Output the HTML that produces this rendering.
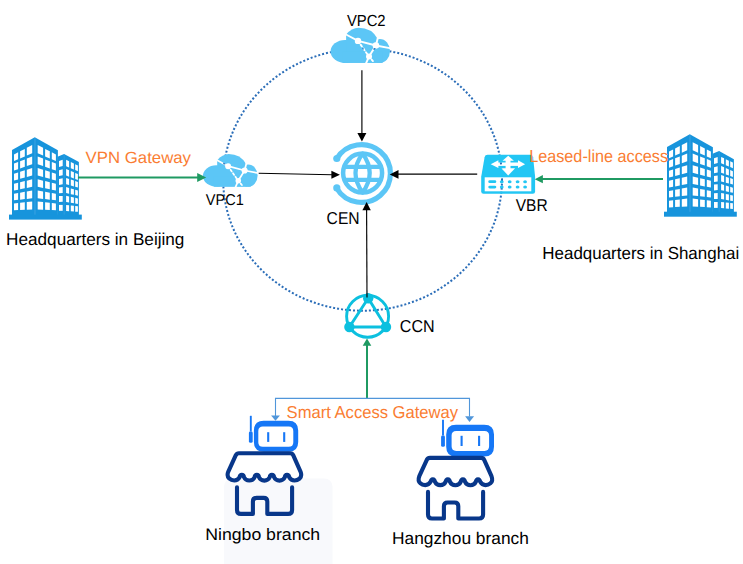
<!DOCTYPE html>
<html><head><meta charset="utf-8"><style>
html,body{margin:0;padding:0;background:#fff;}
svg{display:block;}
</style></head><body>
<svg width="743" height="564" viewBox="0 0 743 564">
<rect width="743" height="564" fill="#fff"/>
<defs><mask id="cloudmask" maskUnits="userSpaceOnUse" x="-5" y="-5" width="70" height="45">
<rect x="-5" y="-5" width="70" height="45" fill="#fff"/>
<g stroke="#000" stroke-width="1.9" fill="none" stroke-linecap="round">
<polyline points="14.5,6.2 27.4,13.1 45.3,17.7 60.5,20.6"/>
<polyline points="47.6,8.5 45.3,17.7 38.4,28.7 35.2,36"/>
<line x1="27.4" y1="13.1" x2="38.4" y2="28.7" stroke-dasharray="2.2 2.4"/>
<line x1="38.4" y1="28.7" x2="43" y2="34" stroke-dasharray="2 2"/>
</g>
<g fill="#000"><circle cx="27.4" cy="13.1" r="3.2"/><circle cx="45.3" cy="17.7" r="3.3"/><circle cx="38.4" cy="28.7" r="3"/></g>
</mask>
<mask id="vbrmask" maskUnits="userSpaceOnUse" x="475" y="150" width="65" height="50">
<rect x="475" y="150" width="65" height="50" fill="#fff"/>
<g fill="#000">
<rect x="484.7" y="177.3" width="46.6" height="14"/>
<rect x="497" y="162.5" width="22" height="3.4"/>
<rect x="505.6" y="159.5" width="4.9" height="10"/>
<polygon points="490.7,164.2 498.4,160.3 498.4,168.1"/>
<polygon points="525.1,164.2 518,160.3 518,168.1"/>
<polygon points="508.2,155.8 502.5,160.7 513.9,160.7"/>
<polygon points="508.2,175.4 501.3,168.3 515.1,168.3"/>
</g>
</mask>
</defs>
<rect x="224" y="478.5" width="108.5" height="100" rx="8" fill="#f8f9fc"/>
<ellipse cx="362.6" cy="179.7" rx="139.4" ry="131.0" fill="none" stroke="#2a6db8" stroke-width="2" stroke-dasharray="2 2"/>
<g><polygon points="12,150 34.8,137.2 57.9,150.2 57.9,215 12,215" fill="#1794dc"/>
<polygon points="57.5,156.7 64.1,154 78.9,162.1 78.9,215 57.5,215" fill="#1794dc"/>
<rect x="9" y="214.6" width="72.8" height="5.0" fill="#1794dc"/>
<rect x="34.2" y="138.2" width="1.5" height="76.4" fill="#3aa3e3" opacity="0.7"/>
<rect x="63.6" y="155" width="1.2" height="59.6" fill="#3aa3e3" opacity="0.5"/>
<polygon points="14,154.5 18.1,152.37 18.1,159.34 14,161.1" fill="#ffffff"/>
<polygon points="51.8,152.37 55.9,154.5 55.9,161.1 51.8,159.34" fill="#ffffff"/>
<polygon points="20.1,151.33 24.8,148.88 24.8,156.46 20.1,158.48" fill="#ffffff"/>
<polygon points="45.1,148.88 49.8,151.33 49.8,158.48 45.1,156.46" fill="#ffffff"/>
<polygon points="26.8,147.84 32.2,145.04 32.2,153.27 26.8,155.6" fill="#ffffff"/>
<polygon points="37.7,145.04 43.1,147.84 43.1,155.6 37.7,153.27" fill="#ffffff"/>
<polygon points="14,163.6 18.1,162 18.1,169.16 14,170.6" fill="#ffffff"/>
<polygon points="51.8,162 55.9,163.6 55.9,170.6 51.8,169.16" fill="#ffffff"/>
<polygon points="20.1,161.22 24.8,159.39 24.8,166.82 20.1,168.47" fill="#ffffff"/>
<polygon points="45.1,159.39 49.8,161.22 49.8,168.47 45.1,166.82" fill="#ffffff"/>
<polygon points="26.8,158.61 32.2,156.5 32.2,164.23 26.8,166.12" fill="#ffffff"/>
<polygon points="37.7,156.5 43.1,158.61 43.1,166.12 37.7,164.23" fill="#ffffff"/>
<polygon points="14,173.7 18.1,172.43 18.1,179.39 14,180.5" fill="#ffffff"/>
<polygon points="51.8,172.43 55.9,173.7 55.9,180.5 51.8,179.39" fill="#ffffff"/>
<polygon points="20.1,171.81 24.8,170.35 24.8,177.58 20.1,178.85" fill="#ffffff"/>
<polygon points="45.1,170.35 49.8,171.81 49.8,178.85 45.1,177.58" fill="#ffffff"/>
<polygon points="26.8,169.73 32.2,168.06 32.2,175.59 26.8,177.04" fill="#ffffff"/>
<polygon points="37.7,168.06 43.1,169.73 43.1,177.04 37.7,175.59" fill="#ffffff"/>
<polygon points="14,183.7 18.1,182.72 18.1,189.68 14,190.5" fill="#ffffff"/>
<polygon points="51.8,182.72 55.9,183.7 55.9,190.5 51.8,189.68" fill="#ffffff"/>
<polygon points="20.1,182.24 24.8,181.11 24.8,188.34 20.1,189.28" fill="#ffffff"/>
<polygon points="45.1,181.11 49.8,182.24 49.8,189.28 45.1,188.34" fill="#ffffff"/>
<polygon points="26.8,180.63 32.2,179.33 32.2,186.86 26.8,187.94" fill="#ffffff"/>
<polygon points="37.7,179.33 43.1,180.63 43.1,187.94 37.7,186.86" fill="#ffffff"/>
<polygon points="14,193.8 18.1,193.06 18.1,199.85 14,200.3" fill="#ffffff"/>
<polygon points="51.8,193.06 55.9,193.8 55.9,200.3 51.8,199.85" fill="#ffffff"/>
<polygon points="20.1,192.7 24.8,191.86 24.8,199.11 20.1,199.63" fill="#ffffff"/>
<polygon points="45.1,191.86 49.8,192.7 49.8,199.63 45.1,199.11" fill="#ffffff"/>
<polygon points="26.8,191.5 32.2,190.52 32.2,198.3 26.8,198.89" fill="#ffffff"/>
<polygon points="37.7,190.52 43.1,191.5 43.1,198.89 37.7,198.3" fill="#ffffff"/>
<polygon points="14,203.6 18.1,203.11 18.1,210.09 14,210.3" fill="#ffffff"/>
<polygon points="51.8,203.11 55.9,203.6 55.9,210.3 51.8,210.09" fill="#ffffff"/>
<polygon points="20.1,202.87 24.8,202.3 24.8,209.76 20.1,209.99" fill="#ffffff"/>
<polygon points="45.1,202.3 49.8,202.87 49.8,209.99 45.1,209.76" fill="#ffffff"/>
<polygon points="26.8,202.06 32.2,201.42 32.2,209.39 26.8,209.66" fill="#ffffff"/>
<polygon points="37.7,201.42 43.1,202.06 43.1,209.66 37.7,209.39" fill="#ffffff"/>
<polygon points="59,161.1 62.7,159.81 62.7,165.96 59,167" fill="#ffffff"/>
<polygon points="59,170.2 62.7,169.2 62.7,175.3 59,176.1" fill="#ffffff"/>
<polygon points="59,179 62.7,178.3 62.7,184.34 59,184.9" fill="#ffffff"/>
<polygon points="59,187.4 62.7,187.03 62.7,193 59,193.3" fill="#ffffff"/>
<polygon points="59,196.1 62.7,195.91 62.7,201.85 59,202" fill="#ffffff"/>
<polygon points="59,204.9 62.7,204.9 62.7,210.8 59,210.8" fill="#ffffff"/>
<polygon points="66.1,159.8 69.1,161.24 69.1,167.46 66.1,166.2" fill="#ffffff"/>
<polygon points="70.8,162.06 73.9,163.54 73.9,169.48 70.8,168.17" fill="#ffffff"/>
<polygon points="75.2,164.17 77.9,165.46 77.9,171.16 75.2,170.02" fill="#ffffff"/>
<polygon points="66.1,168.9 69.1,170.22 69.1,176.71 66.1,175.6" fill="#ffffff"/>
<polygon points="70.8,170.97 73.9,172.33 73.9,178.49 70.8,177.34" fill="#ffffff"/>
<polygon points="75.2,172.9 77.9,174.09 77.9,179.97 75.2,178.97" fill="#ffffff"/>
<polygon points="66.1,178 69.1,178.99 69.1,185.11 66.1,184.3" fill="#ffffff"/>
<polygon points="70.8,179.55 73.9,180.57 73.9,186.41 70.8,185.57" fill="#ffffff"/>
<polygon points="75.2,181 77.9,181.89 77.9,187.49 75.2,186.76" fill="#ffffff"/>
<polygon points="66.1,187 69.1,187.9 69.1,193.76 66.1,193.1" fill="#ffffff"/>
<polygon points="70.8,188.41 73.9,189.34 73.9,194.82 70.8,194.13" fill="#ffffff"/>
<polygon points="75.2,189.73 77.9,190.54 77.9,195.7 75.2,195.1" fill="#ffffff"/>
<polygon points="66.1,195.8 69.1,196.46 69.1,202.44 66.1,201.9" fill="#ffffff"/>
<polygon points="70.8,196.83 73.9,197.52 73.9,203.3 70.8,202.75" fill="#ffffff"/>
<polygon points="75.2,197.8 77.9,198.4 77.9,204.02 75.2,203.54" fill="#ffffff"/>
<polygon points="66.1,204.9 69.1,205.23 69.1,211.21 66.1,211" fill="#ffffff"/>
<polygon points="70.8,205.42 73.9,205.76 73.9,211.55 70.8,211.33" fill="#ffffff"/>
<polygon points="75.2,205.9 77.9,206.2 77.9,211.83 75.2,211.64" fill="#ffffff"/></g>
<g transform="translate(655,-2.9)"><polygon points="12,150 34.8,137.2 57.9,150.2 57.9,215 12,215" fill="#1794dc"/>
<polygon points="57.5,156.7 64.1,154 78.9,162.1 78.9,215 57.5,215" fill="#1794dc"/>
<rect x="9" y="214.6" width="72.8" height="5.0" fill="#1794dc"/>
<rect x="34.2" y="138.2" width="1.5" height="76.4" fill="#3aa3e3" opacity="0.7"/>
<rect x="63.6" y="155" width="1.2" height="59.6" fill="#3aa3e3" opacity="0.5"/>
<polygon points="14,154.5 18.1,152.37 18.1,159.34 14,161.1" fill="#ffffff"/>
<polygon points="51.8,152.37 55.9,154.5 55.9,161.1 51.8,159.34" fill="#ffffff"/>
<polygon points="20.1,151.33 24.8,148.88 24.8,156.46 20.1,158.48" fill="#ffffff"/>
<polygon points="45.1,148.88 49.8,151.33 49.8,158.48 45.1,156.46" fill="#ffffff"/>
<polygon points="26.8,147.84 32.2,145.04 32.2,153.27 26.8,155.6" fill="#ffffff"/>
<polygon points="37.7,145.04 43.1,147.84 43.1,155.6 37.7,153.27" fill="#ffffff"/>
<polygon points="14,163.6 18.1,162 18.1,169.16 14,170.6" fill="#ffffff"/>
<polygon points="51.8,162 55.9,163.6 55.9,170.6 51.8,169.16" fill="#ffffff"/>
<polygon points="20.1,161.22 24.8,159.39 24.8,166.82 20.1,168.47" fill="#ffffff"/>
<polygon points="45.1,159.39 49.8,161.22 49.8,168.47 45.1,166.82" fill="#ffffff"/>
<polygon points="26.8,158.61 32.2,156.5 32.2,164.23 26.8,166.12" fill="#ffffff"/>
<polygon points="37.7,156.5 43.1,158.61 43.1,166.12 37.7,164.23" fill="#ffffff"/>
<polygon points="14,173.7 18.1,172.43 18.1,179.39 14,180.5" fill="#ffffff"/>
<polygon points="51.8,172.43 55.9,173.7 55.9,180.5 51.8,179.39" fill="#ffffff"/>
<polygon points="20.1,171.81 24.8,170.35 24.8,177.58 20.1,178.85" fill="#ffffff"/>
<polygon points="45.1,170.35 49.8,171.81 49.8,178.85 45.1,177.58" fill="#ffffff"/>
<polygon points="26.8,169.73 32.2,168.06 32.2,175.59 26.8,177.04" fill="#ffffff"/>
<polygon points="37.7,168.06 43.1,169.73 43.1,177.04 37.7,175.59" fill="#ffffff"/>
<polygon points="14,183.7 18.1,182.72 18.1,189.68 14,190.5" fill="#ffffff"/>
<polygon points="51.8,182.72 55.9,183.7 55.9,190.5 51.8,189.68" fill="#ffffff"/>
<polygon points="20.1,182.24 24.8,181.11 24.8,188.34 20.1,189.28" fill="#ffffff"/>
<polygon points="45.1,181.11 49.8,182.24 49.8,189.28 45.1,188.34" fill="#ffffff"/>
<polygon points="26.8,180.63 32.2,179.33 32.2,186.86 26.8,187.94" fill="#ffffff"/>
<polygon points="37.7,179.33 43.1,180.63 43.1,187.94 37.7,186.86" fill="#ffffff"/>
<polygon points="14,193.8 18.1,193.06 18.1,199.85 14,200.3" fill="#ffffff"/>
<polygon points="51.8,193.06 55.9,193.8 55.9,200.3 51.8,199.85" fill="#ffffff"/>
<polygon points="20.1,192.7 24.8,191.86 24.8,199.11 20.1,199.63" fill="#ffffff"/>
<polygon points="45.1,191.86 49.8,192.7 49.8,199.63 45.1,199.11" fill="#ffffff"/>
<polygon points="26.8,191.5 32.2,190.52 32.2,198.3 26.8,198.89" fill="#ffffff"/>
<polygon points="37.7,190.52 43.1,191.5 43.1,198.89 37.7,198.3" fill="#ffffff"/>
<polygon points="14,203.6 18.1,203.11 18.1,210.09 14,210.3" fill="#ffffff"/>
<polygon points="51.8,203.11 55.9,203.6 55.9,210.3 51.8,210.09" fill="#ffffff"/>
<polygon points="20.1,202.87 24.8,202.3 24.8,209.76 20.1,209.99" fill="#ffffff"/>
<polygon points="45.1,202.3 49.8,202.87 49.8,209.99 45.1,209.76" fill="#ffffff"/>
<polygon points="26.8,202.06 32.2,201.42 32.2,209.39 26.8,209.66" fill="#ffffff"/>
<polygon points="37.7,201.42 43.1,202.06 43.1,209.66 37.7,209.39" fill="#ffffff"/>
<polygon points="59,161.1 62.7,159.81 62.7,165.96 59,167" fill="#ffffff"/>
<polygon points="59,170.2 62.7,169.2 62.7,175.3 59,176.1" fill="#ffffff"/>
<polygon points="59,179 62.7,178.3 62.7,184.34 59,184.9" fill="#ffffff"/>
<polygon points="59,187.4 62.7,187.03 62.7,193 59,193.3" fill="#ffffff"/>
<polygon points="59,196.1 62.7,195.91 62.7,201.85 59,202" fill="#ffffff"/>
<polygon points="59,204.9 62.7,204.9 62.7,210.8 59,210.8" fill="#ffffff"/>
<polygon points="66.1,159.8 69.1,161.24 69.1,167.46 66.1,166.2" fill="#ffffff"/>
<polygon points="70.8,162.06 73.9,163.54 73.9,169.48 70.8,168.17" fill="#ffffff"/>
<polygon points="75.2,164.17 77.9,165.46 77.9,171.16 75.2,170.02" fill="#ffffff"/>
<polygon points="66.1,168.9 69.1,170.22 69.1,176.71 66.1,175.6" fill="#ffffff"/>
<polygon points="70.8,170.97 73.9,172.33 73.9,178.49 70.8,177.34" fill="#ffffff"/>
<polygon points="75.2,172.9 77.9,174.09 77.9,179.97 75.2,178.97" fill="#ffffff"/>
<polygon points="66.1,178 69.1,178.99 69.1,185.11 66.1,184.3" fill="#ffffff"/>
<polygon points="70.8,179.55 73.9,180.57 73.9,186.41 70.8,185.57" fill="#ffffff"/>
<polygon points="75.2,181 77.9,181.89 77.9,187.49 75.2,186.76" fill="#ffffff"/>
<polygon points="66.1,187 69.1,187.9 69.1,193.76 66.1,193.1" fill="#ffffff"/>
<polygon points="70.8,188.41 73.9,189.34 73.9,194.82 70.8,194.13" fill="#ffffff"/>
<polygon points="75.2,189.73 77.9,190.54 77.9,195.7 75.2,195.1" fill="#ffffff"/>
<polygon points="66.1,195.8 69.1,196.46 69.1,202.44 66.1,201.9" fill="#ffffff"/>
<polygon points="70.8,196.83 73.9,197.52 73.9,203.3 70.8,202.75" fill="#ffffff"/>
<polygon points="75.2,197.8 77.9,198.4 77.9,204.02 75.2,203.54" fill="#ffffff"/>
<polygon points="66.1,204.9 69.1,205.23 69.1,211.21 66.1,211" fill="#ffffff"/>
<polygon points="70.8,205.42 73.9,205.76 73.9,211.55 70.8,211.33" fill="#ffffff"/>
<polygon points="75.2,205.9 77.9,206.2 77.9,211.83 75.2,211.64" fill="#ffffff"/></g>
<g transform="translate(330.6,27.8)"><g fill="#5cc6f6" mask="url(#cloudmask)">
<ellipse cx="14.5" cy="23.6" rx="14.5" ry="11.5"/>
<path d="M15.5 35 L15.5 6.7 Q21 0.2 28 0 Q41 0 47 11 L48 35 Z"/>
<ellipse cx="49.2" cy="23.2" rx="10.2" ry="11.9"/>
<rect x="12" y="24" width="40" height="11.1"/>
</g></g>
<g transform="translate(202.9,154) scale(0.921,0.932)"><g fill="#5cc6f6" mask="url(#cloudmask)">
<ellipse cx="14.5" cy="23.6" rx="14.5" ry="11.5"/>
<path d="M15.5 35 L15.5 6.7 Q21 0.2 28 0 Q41 0 47 11 L48 35 Z"/>
<ellipse cx="49.2" cy="23.2" rx="10.2" ry="11.9"/>
<rect x="12" y="24" width="40" height="11.1"/>
</g></g>
<g fill="none" stroke="#5cc6f6">
<path d="M336.8 158.5 A28.9 28.9 0 1 1 336.8 188.5" stroke-width="5.2" stroke-linecap="round"/>
<circle cx="362.6" cy="173.1" r="19.5" stroke-width="4.5"/>
<line x1="343" y1="166.9" x2="382" y2="166.9" stroke-width="4.3"/>
<line x1="343" y1="179.8" x2="382" y2="179.8" stroke-width="4.3"/>
<path d="M362.6 153.6 Q348.4 173.1 362.6 192.6 Q376.8 173.1 362.6 153.6 Z" stroke-width="4.2" stroke-linejoin="round"/>
</g>
<circle cx="336.8" cy="158.5" r="3.6" fill="#5cc6f6"/><circle cx="336.8" cy="187.9" r="3.6" fill="#5cc6f6"/>
<g mask="url(#vbrmask)"><path d="M487.5 154.8 L530.2 154.8 Q532.6 154.8 533.1 157.2 L535.1 176.7 L535.1 191.5 Q535.1 193.75 532.8 193.75 L483.5 193.75 Q481.2 193.75 481.2 191.5 L481.2 176.7 L484.6 157.2 Q485.1 154.8 487.5 154.8 Z" fill="#22c6f4"/></g>
<g fill="#22c6f4">
<rect x="488.3" y="180.3" width="8" height="2.8" rx="1.4"/>
<ellipse cx="501.75" cy="181.7" rx="1.9" ry="1.5"/>
<ellipse cx="509.7" cy="181.7" rx="1.9" ry="1.5"/>
<ellipse cx="517.6" cy="181.7" rx="1.9" ry="1.5"/>
<ellipse cx="525.1" cy="181.7" rx="1.9" ry="1.5"/>
<rect x="488.3" y="185.7" width="8" height="2.8" rx="1.4"/>
<ellipse cx="501.75" cy="187.1" rx="1.9" ry="1.5"/>
<ellipse cx="509.7" cy="187.1" rx="1.9" ry="1.5"/>
<ellipse cx="517.6" cy="187.1" rx="1.9" ry="1.5"/>
<ellipse cx="525.1" cy="187.1" rx="1.9" ry="1.5"/>
</g>
<g stroke="#0cc0df" fill="none" stroke-width="2.9">
<circle cx="367.6" cy="316.3" r="21"/>
<polygon points="368.2,298.3 349.4,327 386,327"/>
</g>
<g fill="#0cc0df"><circle cx="368.2" cy="298.3" r="5.2"/><circle cx="349.4" cy="327" r="5.2"/><circle cx="386" cy="327" r="5.2"/></g>
<path d="M263.7 420.8 L288.4 420.8 Q298.2 420.8 298.2 430.6 L298.2 441.9 Q298.2 451.7 288.4 451.7 L263.7 451.7 Q253.9 451.7 253.9 441.9 L253.9 430.6 Q253.9 420.8 263.7 420.8 Z M262.9 426.6 L288.7 426.6 Q293.3 426.6 293.3 431.2 L293.3 442.2 Q293.3 446.8 288.7 446.8 L262.9 446.8 Q258.3 446.8 258.3 442.2 L258.3 431.2 Q258.3 426.6 262.9 426.6 Z" fill="#1677f6" fill-rule="evenodd"/>
<g stroke="#1677f6" stroke-width="2.1"><line x1="268.2" y1="432.2" x2="268.2" y2="441.9"/><line x1="284.2" y1="432.2" x2="284.2" y2="441.9"/></g>
<line x1="250.8" y1="415.8" x2="250.8" y2="431.3" stroke="#1677f6" stroke-width="1.9"/>
<rect x="248.9" y="431.3" width="3.8" height="11.5" rx="1.6" fill="#1677f6"/>
<path d="M456 424.8 L484.2 424.8 Q494 424.8 494 434.6 L494 446.8 Q494 456.6 484.2 456.6 L456 456.6 Q446.2 456.6 446.2 446.8 L446.2 434.6 Q446.2 424.8 456 424.8 Z M456.2 431 L484.5 431 Q489.1 431 489.1 435.6 L489.1 446.3 Q489.1 450.9 484.5 450.9 L456.2 450.9 Q451.6 450.9 451.6 446.3 L451.6 435.6 Q451.6 431 456.2 431 Z" fill="#1677f6" fill-rule="evenodd"/>
<g stroke="#1677f6" stroke-width="2.1"><line x1="461.6" y1="435.8" x2="461.6" y2="446"/><line x1="479.1" y1="435.8" x2="479.1" y2="446"/></g>
<line x1="443" y1="419.7" x2="443" y2="435.3" stroke="#1677f6" stroke-width="1.9"/>
<rect x="441.1" y="435.3" width="3.8" height="11.5" rx="1.6" fill="#1677f6"/>
<g fill="none" stroke="#08378a" stroke-width="4.1" stroke-linecap="round" stroke-linejoin="round">
<path d="M238.9 453.3 L290.2 453.3 Q292.3 453.3 293.2 455.2 L300.5 471.6 Q302.3 476.3 299.5 478.6 Q297.3 480.5 294.5 480.5 Q291 480.5 289.05 477 A2.06 2.06 0 1 0 284.95 477 A6 6 0 0 1 273.95 477 A2.06 2.06 0 1 0 269.85 477 A6 6 0 0 1 258.85 477 A2.06 2.06 0 1 0 254.75 477 A6 6 0 0 1 243.85 477 A2.06 2.06 0 1 0 239.75 477 Q237.8 480.5 234.2 480.5 Q231.3 480.5 229.3 478.6 Q226.5 476.3 228.3 471.6 L235.8 455.2 Q236.8 453.3 238.9 453.3 Z"/>
<path d="M237 487.3 L237 509.9 Q237 513.9 241 513.9 L252.9 513.9 L252.9 501.6 Q252.9 497.9 256.6 497.9 L263.6 497.9 Q267.3 497.9 267.3 501.6 L267.3 513.9 L288.1 513.9 Q292.1 513.9 292.1 509.9 L292.1 487.3"/>
</g>
<g transform="translate(191,4.6)"><g fill="none" stroke="#08378a" stroke-width="4.1" stroke-linecap="round" stroke-linejoin="round">
<path d="M238.9 453.3 L290.2 453.3 Q292.3 453.3 293.2 455.2 L300.5 471.6 Q302.3 476.3 299.5 478.6 Q297.3 480.5 294.5 480.5 Q291 480.5 289.05 477 A2.06 2.06 0 1 0 284.95 477 A6 6 0 0 1 273.95 477 A2.06 2.06 0 1 0 269.85 477 A6 6 0 0 1 258.85 477 A2.06 2.06 0 1 0 254.75 477 A6 6 0 0 1 243.85 477 A2.06 2.06 0 1 0 239.75 477 Q237.8 480.5 234.2 480.5 Q231.3 480.5 229.3 478.6 Q226.5 476.3 228.3 471.6 L235.8 455.2 Q236.8 453.3 238.9 453.3 Z"/>
<path d="M237 487.3 L237 509.9 Q237 513.9 241 513.9 L252.9 513.9 L252.9 501.6 Q252.9 497.9 256.6 497.9 L263.6 497.9 Q267.3 497.9 267.3 501.6 L267.3 513.9 L288.1 513.9 Q292.1 513.9 292.1 509.9 L292.1 487.3"/>
</g></g>
<line x1="78" y1="177.4" x2="198" y2="177.4" stroke="#1f9a62" stroke-width="2.0"/>
<polygon points="206.2,177.5 197.2,173.1 197.2,181.9" fill="#1f9a62"/>
<line x1="663" y1="178.9" x2="542" y2="178.9" stroke="#1f9a62" stroke-width="2.0"/>
<polygon points="534.7,179.2 542.9,175.1 542.9,183.3" fill="#1f9a62"/>
<line x1="367" y1="398.8" x2="367" y2="345" stroke="#1f9a62" stroke-width="2.0"/>
<polygon points="367,338.5 362.7,345.8 371.3,345.8" fill="#1f9a62"/>
<line x1="258.7" y1="173.3" x2="332" y2="174.7" stroke="#000" stroke-width="1.15"/>
<polygon points="339.9,174.8 331.4,170.8 331.4,178.8" fill="#000"/>
<line x1="361.9" y1="70.2" x2="361.9" y2="134" stroke="#000" stroke-width="1.15"/>
<polygon points="361.9,141.4 357.4,133.1 366.4,133.1" fill="#000"/>
<line x1="477.2" y1="174.1" x2="398" y2="174.1" stroke="#000" stroke-width="1.15"/>
<polygon points="389.7,174.4 398.5,170.1 398.5,178.7" fill="#000"/>
<line x1="367" y1="297.4" x2="366.6" y2="210" stroke="#000" stroke-width="1.15"/>
<polygon points="366.6,202.1 362.4,210.3 370.8,210.3" fill="#000"/>
<polyline points="275.5,416 275.5,398.4 469.5,398.4 469.5,416.5" fill="none" stroke="#5096da" stroke-width="1.1"/>
<polygon points="275.5,420.8 271.1,415.6 279.9,415.6" fill="#5096da"/>
<polygon points="469.5,422 465.1,416.2 474.1,416.2" fill="#5096da"/>
<g font-family="Liberation Sans, sans-serif" text-rendering="geometricPrecision"><text x="346.9" y="25.5" font-size="16" textLength="38.7" lengthAdjust="spacingAndGlyphs" fill="#000">VPC2</text>
<text x="85.6" y="163.4" font-size="16.3" textLength="105.4" lengthAdjust="spacingAndGlyphs" fill="#fa7d32">VPN Gateway</text>
<text x="205.8" y="204.8" font-size="15.6" textLength="38" lengthAdjust="spacingAndGlyphs" fill="#000">VPC1</text>
<text x="326.6" y="223.8" font-size="17.2" textLength="33" lengthAdjust="spacingAndGlyphs" fill="#000">CEN</text>
<text x="529.2" y="162.2" font-size="17.4" textLength="138.8" lengthAdjust="spacingAndGlyphs" fill="#fa7d32">Leased-line access</text>
<text x="515.7" y="211" font-size="17.2" textLength="31.9" lengthAdjust="spacingAndGlyphs" fill="#000">VBR</text>
<text x="542.3" y="258.8" font-size="17.4" textLength="197" lengthAdjust="spacingAndGlyphs" fill="#000">Headquarters in Shanghai</text>
<text x="6.1" y="244.8" font-size="17.2" textLength="178.3" lengthAdjust="spacingAndGlyphs" fill="#000">Headquarters in Beijing</text>
<text x="399.8" y="331.8" font-size="17.2" textLength="34.8" lengthAdjust="spacingAndGlyphs" fill="#000">CCN</text>
<text x="286.6" y="418.3" font-size="17.3" textLength="171.5" lengthAdjust="spacingAndGlyphs" fill="#fa7d32">Smart Access Gateway</text>
<text x="205.2" y="540.4" font-size="16.6" textLength="115" lengthAdjust="spacingAndGlyphs" fill="#000">Ningbo branch</text>
<text x="392" y="543.8" font-size="17" textLength="136.9" lengthAdjust="spacingAndGlyphs" fill="#000">Hangzhou branch</text></g>
</svg>
</body></html>
